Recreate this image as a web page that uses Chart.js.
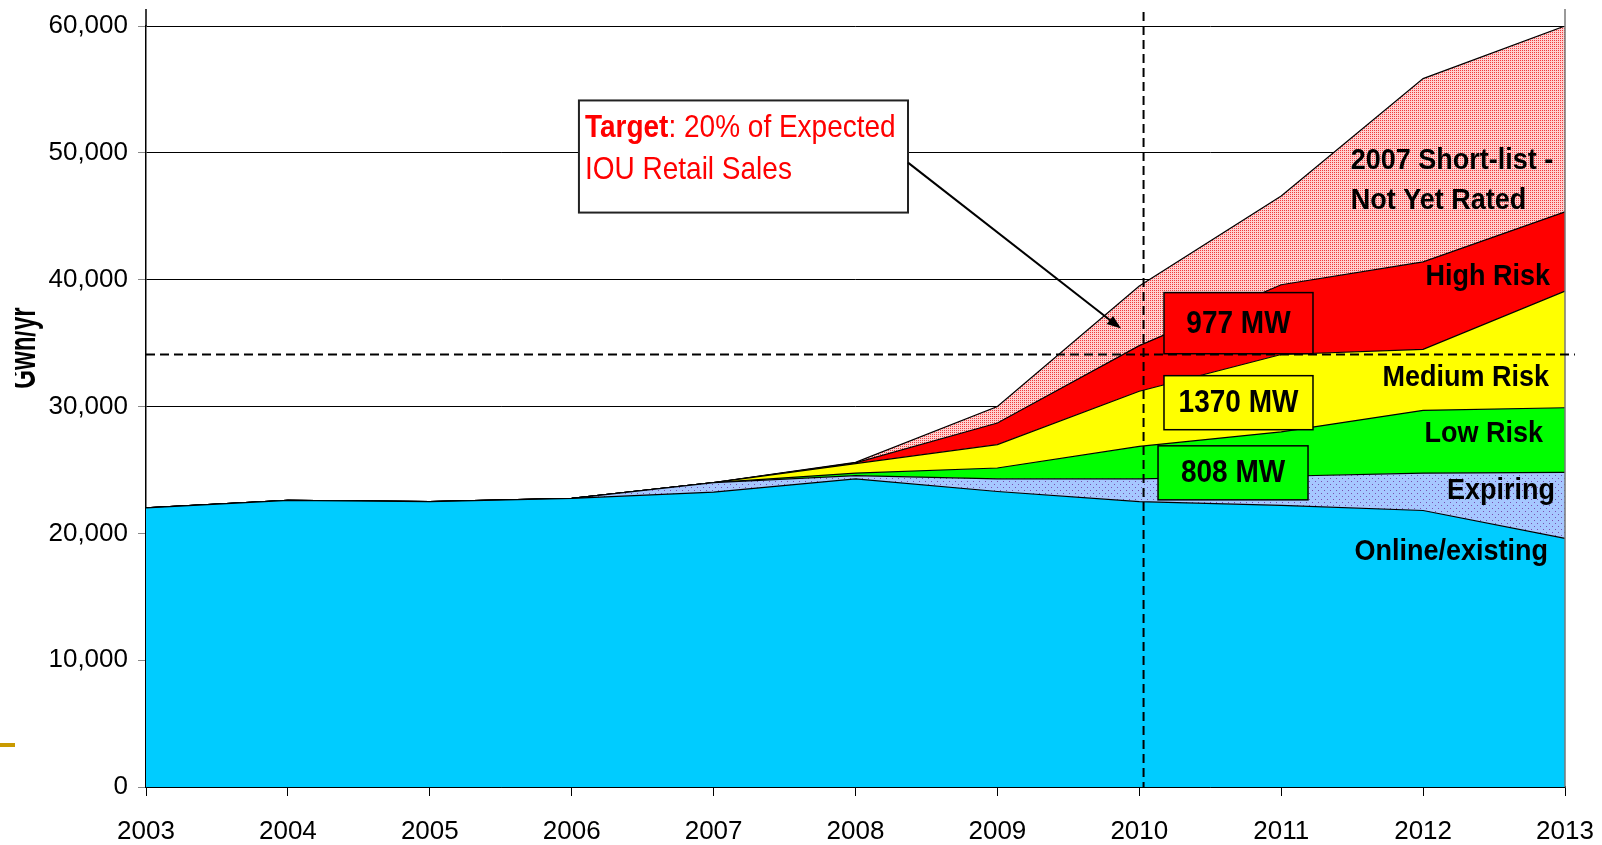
<!DOCTYPE html>
<html>
<head>
<meta charset="utf-8">
<script src="https://cdn.jsdelivr.net/npm/chart.js@4.4.0/dist/chart.umd.min.js"></script>
<style>
  html, body { margin: 0; padding: 0; background: #fff; overflow: hidden; }
  #wrap { position: relative; width: 1602px; height: 845px; }
</style>
</head>
<body>
<div id="wrap"><canvas id="chart" width="1602" height="845"></canvas></div>
<script>
// Values (GWh/yr), one value per year
const years = ["2003", "2004", "2005", "2006", "2007", "2008", "2009", "2010", "2011", "2012", "2013"];
const online    = [22000, 22600, 22500, 22750, 23250, 24300, 23300, 22500, 22200, 21800, 19600];
const expiring  = [0, 0, 0, 0, 750, 250, 1000, 1800, 2300, 2950, 5200];
const lowRisk   = [0, 0, 0, 0, 0, 200, 850, 2550, 3500, 4950, 5100];
const medRisk   = [0, 0, 0, 0, 0, 750, 1850, 4350, 6100, 4800, 9200];
const highRisk  = [0, 0, 0, 0, 0, 50, 1700, 3600, 5500, 6900, 6250];
const shortList = [0, 0, 0, 0, 0, 50, 1300, 4700, 7000, 14450, 14650];
const yTicks = [0, 10000, 20000, 30000, 40000, 50000, 60000];

const targetValue = 34100;   // dashed target line
const targetYear = 7.03;     // dashed vertical marker (just after 2010)

function dotPattern(base, dot, size, dots) {
  const c = document.createElement("canvas");
  c.width = size; c.height = size;
  const g = c.getContext("2d");
  g.fillStyle = base;
  g.fillRect(0, 0, size, size);
  g.fillStyle = dot;
  dots.forEach(function (d) { g.fillRect(d[0], d[1], 1, 1); });
  return g.createPattern(c, "repeat");
}

const expPattern = dotPattern("#a6c8ff", "#7a4fb0", 6, [[1, 1], [4, 4]]);
const pinkPattern = dotPattern("#ffd0d0", "#f03c3c", 2, [[0, 0]]);

const boldFont = "bold 27px 'Liberation Sans', Arial, sans-serif";

function stretchText(ctx, text, x, y, align, font, color) {
  ctx.save();
  ctx.font = font;
  ctx.fillStyle = color;
  ctx.textAlign = align;
  ctx.textBaseline = "middle";
  ctx.translate(x, y);
  ctx.scale(1, 1.1);
  ctx.fillText(text, 0, 0);
  ctx.restore();
}

const overlay = {
  id: "overlay",
  afterDatasetsDraw(chart) {
    const ctx = chart.ctx;
    const xs = chart.scales.x, ys = chart.scales.y;
    const step = xs.getPixelForValue(1) - xs.getPixelForValue(0);
    const X = i => xs.getPixelForValue(0) + i * step;
    const Y = v => ys.getPixelForValue(v);
    const area = chart.chartArea;

    // frame bits above the top gridline
    ctx.save();
    ctx.strokeStyle = "#000";
    ctx.lineWidth = 1.5;
    ctx.beginPath();
    ctx.moveTo(area.left, 9); ctx.lineTo(area.left, area.top);
    ctx.stroke();
    ctx.strokeStyle = "#777";
    ctx.beginPath();
    ctx.moveTo(area.right, 9); ctx.lineTo(area.right, area.bottom);
    ctx.stroke();
    ctx.restore();

    // series labels
    stretchText(ctx, "2007 Short-list -", X(8.49), Y(49400), "left", boldFont, "#000");
    stretchText(ctx, "Not Yet Rated", X(8.49), Y(46250), "left", boldFont, "#000");
    stretchText(ctx, "High Risk", X(9.894), Y(40250), "right", boldFont, "#000");
    stretchText(ctx, "Medium Risk", X(9.887), Y(32270), "right", boldFont, "#000");
    stretchText(ctx, "Low Risk", X(9.845), Y(27850), "right", boldFont, "#000");
    stretchText(ctx, "Expiring", X(9.93), Y(23350), "right", boldFont, "#000");
    stretchText(ctx, "Online/existing", X(9.88), Y(18540), "right", boldFont, "#000");

    // dashed target lines
    ctx.save();
    ctx.strokeStyle = "#000";
    ctx.lineWidth = 2;
    ctx.setLineDash([9, 5]);
    ctx.beginPath();
    ctx.moveTo(area.left, Y(targetValue));
    ctx.lineTo(X(10.07), Y(targetValue));
    ctx.stroke();
    ctx.beginPath();
    ctx.moveTo(X(targetYear), 12);
    ctx.lineTo(X(targetYear), area.bottom);
    ctx.stroke();
    ctx.restore();

    // MW boxes
    const boxes = [
      { text: "977 MW", fill: "#ff0000", x0: 7.174, x1: 8.224, v0: 38980, v1: 34160 },
      { text: "1370 MW", fill: "#ffff00", x0: 7.174, x1: 8.224, v0: 32430, v1: 28170 },
      { text: "808 MW", fill: "#00ff00", x0: 7.132, x1: 8.189, v0: 26900, v1: 22640 }
    ];
    boxes.forEach(function (b) {
      const l = X(b.x0), r = X(b.x1), t = Y(b.v0), btm = Y(b.v1);
      ctx.save();
      ctx.fillStyle = b.fill;
      ctx.fillRect(l, t, r - l, btm - t);
      ctx.strokeStyle = "#000";
      ctx.lineWidth = 1.5;
      ctx.strokeRect(l, t, r - l, btm - t);
      ctx.restore();
      stretchText(ctx, b.text, (l + r) / 2, (t + btm) / 2 + 1, "center",
        "bold 28px 'Liberation Sans', Arial, sans-serif", "#000");
    });

    // target call-out box
    const tl = X(3.051), tr = X(5.370), tt = Y(54130), tb = Y(45290);
    ctx.save();
    ctx.fillStyle = "#fff";
    ctx.fillRect(tl, tt, tr - tl, tb - tt);
    ctx.strokeStyle = "#222";
    ctx.lineWidth = 2;
    ctx.strokeRect(tl, tt, tr - tl, tb - tt);
    ctx.restore();
    const f1 = "bold 28px 'Liberation Sans', Arial, sans-serif";
    const f2 = "28px 'Liberation Sans', Arial, sans-serif";
    ctx.save();
    ctx.font = f1;
    const wT = ctx.measureText("Target").width;
    ctx.restore();
    stretchText(ctx, "Target", tl + 6, tt + 28, "left", f1, "#ff0000");
    stretchText(ctx, ": 20% of Expected", tl + 6 + wT, tt + 28, "left", f2, "#ff0000");
    stretchText(ctx, "IOU Retail Sales", tl + 6, tt + 70, "left", f2, "#ff0000");

    // arrow
    const ax0 = X(5.370), ay0 = Y(49230), ax1 = X(6.871), ay1 = Y(36140);
    const ang = Math.atan2(ay1 - ay0, ax1 - ax0);
    ctx.save();
    ctx.strokeStyle = "#000";
    ctx.fillStyle = "#000";
    ctx.lineWidth = 2;
    ctx.beginPath();
    ctx.moveTo(ax0, ay0);
    ctx.lineTo(ax1 - 8 * Math.cos(ang), ay1 - 8 * Math.sin(ang));
    ctx.stroke();
    ctx.beginPath();
    ctx.moveTo(ax1, ay1);
    ctx.lineTo(ax1 - 15 * Math.cos(ang - 0.35), ay1 - 15 * Math.sin(ang - 0.35));
    ctx.lineTo(ax1 - 15 * Math.cos(ang + 0.35), ay1 - 15 * Math.sin(ang + 0.35));
    ctx.closePath();
    ctx.fill();
    ctx.restore();
  },
  afterDraw(chart) {
    const ctx = chart.ctx;
    // y axis title, cut at the left as in the slide
    ctx.save();
    ctx.beginPath();
    ctx.rect(15, 0, 120, 845);
    ctx.clip();
    ctx.translate(35, 348);
    ctx.rotate(-Math.PI / 2);
    ctx.scale(1, 1.55);
    ctx.font = "bold 24px 'Liberation Sans', Arial, sans-serif";
    ctx.fillStyle = "#000";
    ctx.textAlign = "center";
    ctx.textBaseline = "alphabetic";
    ctx.fillText("Gwh/yr", 0, 0);
    ctx.restore();
    // small gold slide mark
    ctx.save();
    ctx.fillStyle = "#c99a00";
    ctx.fillRect(0, 743, 15, 4);
    ctx.restore();
  }
};

function area(label, data, bg, fill) {
  return {
    label: label,
    data: data,
    backgroundColor: bg,
    borderColor: "#000",
    borderWidth: 1.2,
    pointRadius: 0,
    tension: 0,
    fill: fill
  };
}

new Chart(document.getElementById("chart"), {
  type: "line",
  data: {
    labels: years,
    datasets: [
      area("Online/existing", online, "#00ccff", "origin"),
      area("Expiring", expiring, expPattern, "-1"),
      area("Low Risk", lowRisk, "#00ff00", "-1"),
      area("Medium Risk", medRisk, "#ffff00", "-1"),
      area("High Risk", highRisk, "#ff0000", "-1"),
      area("2007 Short-list - Not Yet Rated", shortList, pinkPattern, "-1")
    ]
  },
  options: {
    responsive: false,
    animation: false,
    layout: { padding: { left: 0, right: 37, top: 26, bottom: 0 } },
    scales: {
      x: {
        offset: false,
        grid: { drawOnChartArea: false, tickLength: 9, color: "#000", tickColor: "#000" },
        border: { color: "#000", width: 1.5 },
        ticks: {
          color: "#000",
          padding: 0,   // tick padding also widens the right margin, so push the labels down with lineHeight
          maxRotation: 0,
          font: { family: "'Liberation Sans', Arial, sans-serif", size: 26, lineHeight: 2.75 }
        },
        afterFit(scale) { scale.height = 58; }
      },
      y: {
        stacked: true,
        min: 0,
        max: 60000,
        afterBuildTicks(scale) { scale.ticks = yTicks.map(v => ({ value: v })); },
        grid: { color: "#000", lineWidth: 1, tickLength: 8, tickColor: "#888" },
        border: { color: "#000", width: 1.5 },
        ticks: {
          color: "#000",
          padding: 10,
          font: { family: "'Liberation Sans', Arial, sans-serif", size: 26 },
          callback: v => v.toLocaleString("en-US")
        },
        afterFit(scale) { scale.width = 146; }
      }
    },
    plugins: {
      legend: { display: false },
      tooltip: { enabled: false }
    }
  },
  plugins: [overlay]
});
</script>
</body>
</html>
